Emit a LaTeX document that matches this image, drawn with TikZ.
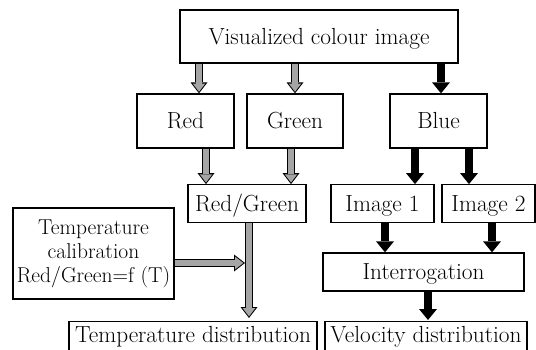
\documentclass[tikz,border=0pt]{standalone}
\usepackage{fontspec}
\usetikzlibrary{arrows.meta}
\definecolor{arrgray}{RGB}{165,165,165}
\begin{document}
\begin{tikzpicture}[x=1pt,y=-1pt,
  box/.style={draw, line width=1.3pt, inner sep=0pt, text height=15.5pt, text depth=0pt,
    font=\fontsize{23.3}{24}\selectfont, align=center},
  multibox/.style={draw, line width=1.3pt, inner sep=0pt,
    font=\fontsize{21.5}{24}\selectfont, align=center},
  blk/.style={line width=8.5pt, -{Triangle[width=18pt,length=11pt,line width=0pt]}},
  gout/.style={line width=8pt, -{Triangle[width=17pt,length=11pt,line width=0pt]}},
  gin/.style={arrgray, line width=5.5pt, shorten >=1.63pt,
    -{Triangle[width=12.6pt,length=8.2pt,line width=0pt]}}
]
\clip (0,0) rectangle (536,349);
\fill[white] (0,0) rectangle (536,349);
% nodes
\node[box, minimum width=278pt, minimum height=53pt] (top) at (319,36.5) {Visualized colour image};
\node[box, minimum width=97pt, minimum height=54pt] (red) at (185.5,121) {Red};
\node[box, minimum width=96pt, minimum height=54pt] (green) at (295,121) {Green};
\node[box, minimum width=97pt, minimum height=54pt] (blue) at (438.5,121) {Blue};
\node[box, minimum width=118pt, minimum height=37.5pt] (rg) at (247,203.5) {Red/Green};
\node[box, minimum width=103pt, minimum height=37.5pt] (img1) at (382.5,203.5) {Image 1};
\node[box, minimum width=93pt, minimum height=37.5pt] (img2) at (488.5,203.5) {Image 2};
\node[box, minimum width=201pt, minimum height=38pt] (int) at (423.5,272) {Interrogation};
\node[multibox, minimum width=161pt, minimum height=91pt] (calib) at (93.5,253.5)
  {Temperature\\calibration\\Red/Green=f (T)};
\node[box, anchor=north, minimum width=248pt, inner xsep=0pt, inner ysep=5.5pt, text depth=20pt]
  (tdist) at (193,321) {Temperature distribution};
\node[box, anchor=north, minimum width=202pt, inner xsep=0pt, inner ysep=5.5pt, text depth=20pt]
  (vdist) at (426,321) {Velocity distribution};
% helper coordinates
\coordinate (r1) at ([xshift=13.5pt]red.north);
\coordinate (g1) at (green.north);
\coordinate (b1) at ([xshift=2.5pt]blue.north);
\coordinate (r2) at ([xshift=20.5pt]red.south);
\coordinate (g2) at ([xshift=-4pt]green.south);
\coordinate (b2) at ([xshift=-23.5pt]blue.south);
\coordinate (b3) at ([xshift=30.5pt]blue.south);
\coordinate (i1) at ([xshift=2.5pt]img1.south);
\coordinate (i2) at ([xshift=3.5pt]img2.south);
\coordinate (in1) at ([xshift=4.5pt]int.south);
\coordinate (vs) at ([xshift=2pt]rg.south);
\coordinate (hl) at ([xshift=-2pt]rg.south);
\coordinate (ca) at ([yshift=-9.5pt]calib.east);
% gray arrows
\draw[gout] (r1 |- top.south) -- (r1);
\draw[gin]  (r1 |- top.south) -- (r1);
\draw[gout] (g1 |- top.south) -- (g1);
\draw[gin]  (g1 |- top.south) -- (g1);
\draw[gout] (r2) -- (r2 |- rg.north);
\draw[gin]  (r2) -- (r2 |- rg.north);
\draw[gout] (g2) -- (g2 |- rg.north);
\draw[gin]  (g2) -- (g2 |- rg.north);
\draw[gout] (ca) -- (ca -| hl);
\draw[gin]  (ca) -- (ca -| hl);
\draw[gout, shorten >=3pt] (vs) -- (vs |- tdist.north);
\draw[gin, shorten >=4.63pt] (vs) -- (vs |- tdist.north);
% black arrows
\draw[blk] (b1 |- top.south) -- (b1);
\draw[blk] (b2) -- (b2 |- img1.north);
\draw[blk] (b3) -- (b3 |- img2.north);
\draw[blk] (i1) -- (i1 |- int.north);
\draw[blk] (i2) -- (i2 |- int.north);
\draw[blk, shorten >=1pt] (in1) -- (in1 |- vdist.north);
\end{tikzpicture}
\end{document}
